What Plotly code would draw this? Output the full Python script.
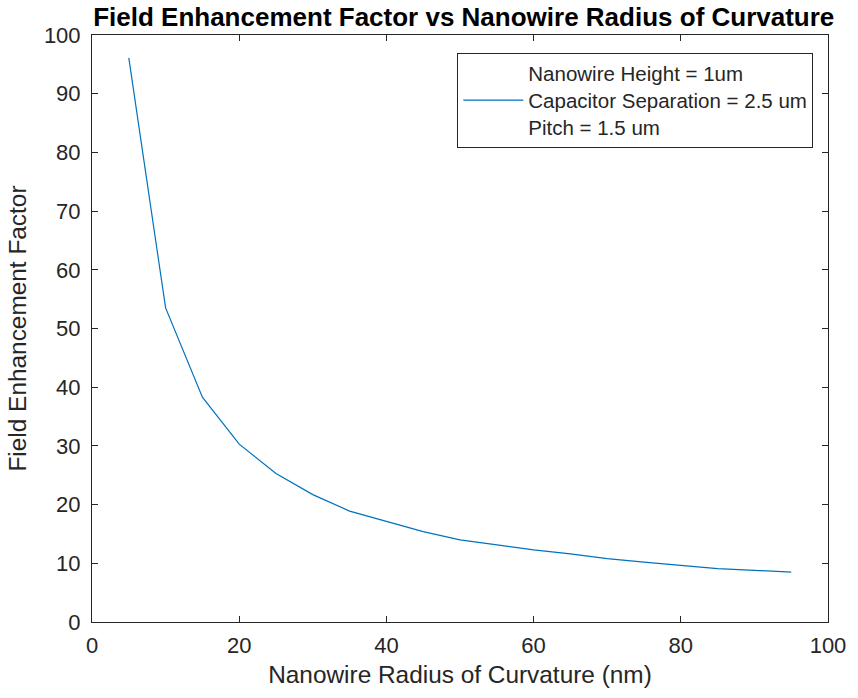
import plotly.graph_objects as go

radius_nm = [5, 10, 15, 20, 25, 30, 35, 40, 45, 50, 55, 60, 65, 70, 75, 80, 85, 90, 95]
enhancement = [96.1, 53.5, 38.3, 30.3, 25.3, 21.7, 18.9, 17.1, 15.4, 14.0, 13.1, 12.3, 11.6, 10.8, 10.2, 9.6, 9.1, 8.8, 8.5]
legend_label = "Nanowire Height = 1um<br>Capacitor Separation = 2.5 um<br>Pitch = 1.5 um"

fig = go.Figure()
fig.add_trace(go.Scatter(x=radius_nm, y=enhancement, mode="lines", name=legend_label,
                         line=dict(color="#0072BD", width=1.2), showlegend=True))

axis_common = dict(showline=True, linecolor="#262626", linewidth=1, mirror="ticks",
                   ticks="inside", ticklen=6, tickcolor="#262626", showgrid=False,
                   zeroline=False, tickfont=dict(size=22, color="#262626"))

fig.update_layout(
    width=858, height=698,
    margin=dict(l=92, r=24, t=35, b=76),
    paper_bgcolor="white", plot_bgcolor="white",
    font=dict(family="Liberation Sans, Arial, sans-serif", color="#262626"),
    title=dict(text="<b>Field Enhancement Factor vs Nanowire Radius of Curvature</b>",
               x=0.5405, xanchor="center", y=0.9755, yanchor="middle",
               font=dict(size=26, color="black")),
    xaxis=dict(range=[0, 100], tickvals=[0, 20, 40, 60, 80, 100], ticklabelstandoff=4,
               title=dict(text="Nanowire Radius of Curvature (nm)", font=dict(size=24.4), standoff=8),
               **axis_common),
    yaxis=dict(range=[0, 100], tickvals=list(range(0, 101, 10)), ticklabelstandoff=6,
               title=dict(text="Field Enhancement Factor", font=dict(size=24.4), standoff=10),
               **axis_common),
    legend=dict(x=0.98, y=0.97, xanchor="right", yanchor="top",
                bgcolor="white", bordercolor="#262626", borderwidth=1,
                font=dict(size=20.5, color="#262626"), itemwidth=60),
)

fig.write_html("out.html")
